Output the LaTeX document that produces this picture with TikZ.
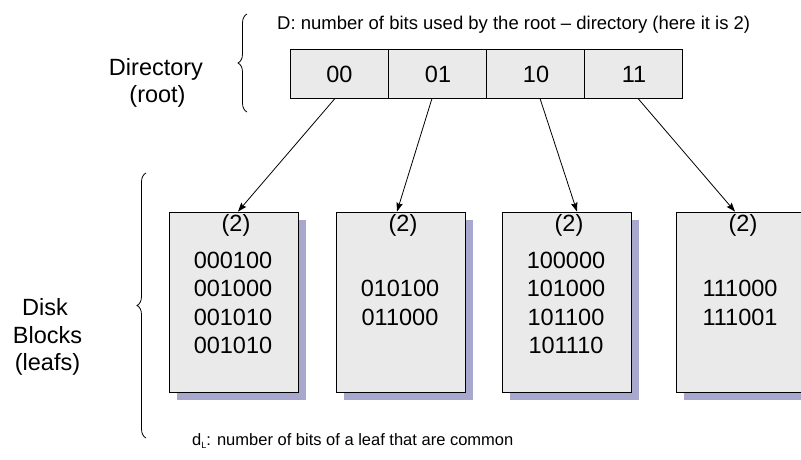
\documentclass[tikz,border=0pt]{standalone}
\usepackage{fontspec}
\setmainfont{Liberation Sans}
\usetikzlibrary{decorations.pathreplacing,shadows,arrows.meta,calc}
\definecolor{boxgray}{HTML}{EAEAEA}
\definecolor{shadowblue}{RGB}{168,168,206}
\begin{document}
\begin{tikzpicture}[x=1pt,y=-1pt,
  cell/.style={draw=black,line width=0.9pt,fill=boxgray,minimum width=98pt,minimum height=49pt,inner sep=0pt,anchor=center},
  leaf/.style={draw=black,line width=0.9pt,fill=boxgray,minimum width=129pt,minimum height=180pt,inner sep=0pt,anchor=center,
     drop shadow={shadow xshift=8pt,shadow yshift=-8pt,fill=shadowblue,opacity=1,draw=none}},
  big/.style={font=\fontsize{23.5}{28}\selectfont,inner sep=0pt,anchor=base},
  lbl/.style={font=\fontsize{23.5}{28}\selectfont,inner sep=0pt,anchor=base},
  note/.style={font=\fontsize{18.5}{22}\selectfont,inner sep=0pt,anchor=base west},
  arr/.style={line width=0.8pt,-{Stealth[length=9pt,width=6.5pt,inset=1.5pt]}},
  brc/.style={line width=0.8pt,decorate,decoration={brace,amplitude=9pt}}
]
\useasboundingbox (0,0) rectangle (801,459);

% top note
\node[note] (dtext) at (277,29.5) {D: number of bits used by the root -- directory (here it is 2)};

% directory cells
\node[cell] (c00) at (339,73.5) {};
\node[cell] (c01) at (437,73.5) {};
\node[cell] (c10) at (535,73.5) {};
\node[cell] (c11) at (633,73.5) {};
\node[big] (t00) at (339.5,82) {00};
\node[big] (t01) at (438,82) {01};
\node[big] (t10) at (536,82) {10};
\node[big] (t11) at (634,82) {11};

% directory label and brace
\node[lbl] (dir1) at (156,75) {Directory};
\node[lbl] (dir2) at (157.5,102.5) {(root)};
\coordinate (b1s) at (247,112);
\coordinate (b1e) at (247,14);
\draw[brc] (b1s) -- (b1e);

% leaves
\node[leaf] (l1) at (233.5,302) {};
\node[leaf] (l2) at (400.5,302) {};
\node[leaf] (l3) at (566.5,302) {};
\node[leaf] (l4) at (740.5,302) {};

\node[big] (l1h) at (236,231) {(2)};
\node[big] (l2h) at (403,231) {(2)};
\node[big] (l3h) at (569,231) {(2)};
\node[big] (l4h) at (743,231) {(2)};

\node[big] (l1a) at (233,268) {000100};
\node[big] (l1b) at (233,296.5) {001000};
\node[big] (l1c) at (233,325) {001010};
\node[big] (l1d) at (233,353.5) {001010};

\node[big] (l2a) at (400,296.5) {010100};
\node[big] (l2b) at (400,325) {011000};

\node[big] (l3a) at (566,268) {100000};
\node[big] (l3b) at (566,296.5) {101000};
\node[big] (l3c) at (566,325) {101100};
\node[big] (l3d) at (566,353.5) {101110};

\node[big] (l4a) at (740,296.5) {111000};
\node[big] (l4b) at (740,325) {111001};

% leaf label and brace
\node[lbl] (dk1) at (45,315) {Disk};
\node[lbl] (dk2) at (47.5,343) {Blocks};
\node[lbl] (dk3) at (47.5,370.5) {(leafs)};
\coordinate (b2s) at (146,438);
\coordinate (b2e) at (146,173);
\draw[brc] (b2s) -- (b2e);

% bottom note
\node[font=\fontsize{16.5}{20}\selectfont,inner sep=0pt,anchor=base west] (dl) at (192,445)
  {d\raisebox{-3pt}{\fontsize{9}{10}\selectfont L}: number of bits of a leaf that are common};

% arrows
\draw[arr] ([xshift=-4pt]c00.south) -- ([xshift=4.5pt]l1.north);
\draw[arr] ([xshift=-5pt]c01.south) -- ([xshift=-3.5pt]l2.north);
\draw[arr] ([xshift=5pt]c10.south) -- ([xshift=10.5pt]l3.north);
\draw[arr] ([xshift=5pt]c11.south) -- ([xshift=-5.5pt]l4.north);
\end{tikzpicture}
\end{document}
